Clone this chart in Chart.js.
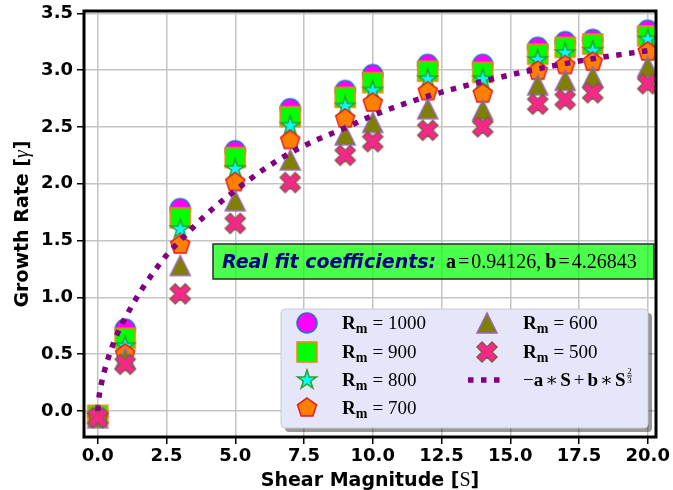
<!DOCTYPE html>
<html>
<head>
<meta charset="utf-8">
<script src="https://cdn.jsdelivr.net/npm/chart.js@4/dist/chart.umd.min.js"></script>
<style>
  html, body { margin: 0; padding: 0; background: #ffffff; }
  #wrap { width: 673px; height: 490px; }
</style>
</head>
<body>
<div id="wrap"><canvas id="chart" width="673" height="490"></canvas></div>
<script>
// Shear magnitudes at which growth rates were measured
const shear = [0, 1, 3, 5, 7, 9, 10, 12, 14, 16, 17, 18, 20];

// Growth rate for each magnetic Reynolds number
const rm1000 = [-0.04, 0.72, 1.78, 2.29, 2.66, 2.82, 2.96, 3.05, 3.05, 3.20, 3.25, 3.27, 3.35];
const rm900  = [-0.04, 0.64, 1.70, 2.23, 2.59, 2.76, 2.89, 2.99, 2.98, 3.14, 3.20, 3.23, 3.30];
const rm800  = [-0.05, 0.57, 1.60, 2.13, 2.51, 2.68, 2.82, 2.92, 2.92, 3.09, 3.15, 3.17, 3.27];
const rm700  = [-0.05, 0.50, 1.46, 2.01, 2.38, 2.57, 2.71, 2.81, 2.79, 2.99, 3.04, 3.07, 3.16];
const rm600  = [-0.06, 0.46, 1.28, 1.85, 2.21, 2.43, 2.54, 2.66, 2.65, 2.87, 2.91, 2.94, 3.03];
const rm500  = [-0.06, 0.41, 1.03, 1.65, 2.01, 2.25, 2.37, 2.47, 2.50, 2.70, 2.74, 2.80, 2.88];

// Fitted curve, sampled along S
const fitS = [0, 0.05, 0.15, 0.3, 0.5, 0.75, 1, 1.5, 2, 2.5, 3, 4, 5, 6, 7, 8, 9, 10, 12, 14, 16, 18, 20];
const fitG = [0, 0.13, 0.26, 0.40, 0.55, 0.70, 0.82, 1.03, 1.21, 1.37, 1.50, 1.74, 1.94, 2.12, 2.27, 2.39, 2.49, 2.60, 2.77, 2.90, 3.01, 3.10, 3.17];

// Tick positions
const xTicks = [0, 2.5, 5, 7.5, 10, 12.5, 15, 17.5, 20];
const yTicks = [0, 0.5, 1, 1.5, 2, 2.5, 3, 3.5];

const seriesLabels = ['1000', '900', '800', '700', '600', '500'];
const fitA = '0.94126';
const fitB = '4.26843';

const SERIF = '"Liberation Serif", "DejaVu Serif", serif';
const SANS = '"DejaVu Sans", sans-serif';

// Build a filled marker glyph on a small canvas
function makeMarker(shape, fill, edge, lw) {
  const c = document.createElement('canvas');
  c.width = 26; c.height = 26;
  const g = c.getContext('2d');
  g.translate(13, 13);
  g.beginPath();
  const R = 10;
  if (shape === 'circle') {
    g.arc(0, 0, R, 0, Math.PI * 2);
  } else if (shape === 'square') {
    g.rect(-R, -R, 2 * R, 2 * R);
  } else if (shape === 'star') {
    for (let i = 0; i < 10; i++) {
      const r = i % 2 ? R * 0.381966 : R;
      const a = -Math.PI / 2 + i * Math.PI / 5;
      const px = r * Math.cos(a), py = r * Math.sin(a);
      if (i === 0) g.moveTo(px, py); else g.lineTo(px, py);
    }
  } else if (shape === 'pentagon') {
    for (let i = 0; i < 5; i++) {
      const a = -Math.PI / 2 + i * 2 * Math.PI / 5;
      const px = R * Math.cos(a), py = R * Math.sin(a);
      if (i === 0) g.moveTo(px, py); else g.lineTo(px, py);
    }
  } else if (shape === 'triangle') {
    g.moveTo(0, -R); g.lineTo(-R, R); g.lineTo(R, R);
  } else if (shape === 'xfilled') {
    const pts = [[-1,-2],[0,-1],[1,-2],[2,-1],[1,0],[2,1],[1,2],[0,1],[-1,2],[-2,1],[-1,0],[-2,-1]];
    pts.forEach((p, i) => {
      const px = p[0] * R / 2, py = p[1] * R / 2;
      if (i === 0) g.moveTo(px, py); else g.lineTo(px, py);
    });
  }
  g.closePath();
  g.fillStyle = fill;
  g.fill();
  g.lineWidth = lw;
  g.lineJoin = 'miter';
  g.strokeStyle = edge;
  g.stroke();
  return c;
}

const markers = [
  makeMarker('circle',   '#ff00ff', '#1f77b4', 1.5),
  makeMarker('square',   '#00ff00', '#ff7f0e', 1.5),
  makeMarker('star',     '#00ffff', '#2ca02c', 1.5),
  makeMarker('pentagon', '#ff7f00', '#e41a1c', 1.5),
  makeMarker('triangle', '#808000', '#9467bd', 1.5),
  makeMarker('xfilled',  '#f5288a', '#8c564b', 1.5)
];
const seriesValues = [rm1000, rm900, rm800, rm700, rm600, rm500];
const FIT_COLOR = '#800080';

const datasets = seriesValues.map((vals, i) => ({
  type: 'scatter',
  label: 'Rm = ' + seriesLabels[i],
  data: shear.map((s, k) => ({ x: s, y: vals[k] })),
  pointStyle: markers[i],
  pointRadius: 10,
  pointHoverRadius: 10,
  showLine: false,
  order: 6 - i,
  clip: 0
}));
datasets.push({
  type: 'line',
  label: 'fit',
  data: fitS.map((s, k) => ({ x: s, y: fitG[k] })),
  borderColor: FIT_COLOR,
  borderWidth: 5.5,
  borderDash: [5.5, 7.5],
  borderCapStyle: 'butt',
  cubicInterpolationMode: 'monotone',
  pointRadius: 0,
  fill: false,
  order: 0,
  clip: 0
});

// Draw a run of text pieces with different fonts
function drawPieces(ctx, x, y, pieces) {
  for (const p of pieces) {
    ctx.font = p.f;
    ctx.fillText(p.t, x + (p.pre || 0), y + (p.dy || 0));
    x += (p.pre || 0) + ctx.measureText(p.t).width + (p.post || 0);
  }
  return x;
}
function piecesWidth(ctx, pieces) {
  let w = 0;
  for (const p of pieces) {
    ctx.font = p.f;
    w += (p.pre || 0) + ctx.measureText(p.t).width + (p.post || 0);
  }
  return w;
}

function roundRect(ctx, x, y, w, h, r) {
  ctx.beginPath();
  ctx.moveTo(x + r, y);
  ctx.lineTo(x + w - r, y);
  ctx.arcTo(x + w, y, x + w, y + r, r);
  ctx.lineTo(x + w, y + h - r);
  ctx.arcTo(x + w, y + h, x + w - r, y + h, r);
  ctx.lineTo(x + r, y + h);
  ctx.arcTo(x, y + h, x, y + h - r, r);
  ctx.lineTo(x, y + r);
  ctx.arcTo(x, y, x + r, y, r);
  ctx.closePath();
}

const decorations = {
  id: 'decorations',
  afterDatasetsDraw(chart) {
    const ctx = chart.ctx;
    const a = chart.chartArea;
    // axes frame
    ctx.save();
    ctx.strokeStyle = '#000';
    ctx.lineWidth = 3;
    ctx.strokeRect(a.left, a.top, a.right - a.left, a.bottom - a.top);
    ctx.restore();
  },
  afterDraw(chart) {
    const ctx = chart.ctx;
    const a = chart.chartArea;
    ctx.save();
    ctx.fillStyle = '#000';
    ctx.textBaseline = 'alphabetic';

    // axis titles
    const tb = 'bold 19px ' + SANS;
    const xt = [
      { t: 'Shear Magnitude [', f: tb },
      { t: 'S', f: '20px ' + SERIF },
      { t: ']', f: tb }
    ];
    const cx = (a.left + a.right) / 2;
    drawPieces(ctx, cx - piecesWidth(ctx, xt) / 2, 486, xt);

    const yt = [
      { t: 'Growth Rate [', f: tb },
      { t: '\u03b3', f: 'italic 20px ' + SERIF, post: 1 },
      { t: ']', f: tb }
    ];
    ctx.save();
    ctx.translate(28, (a.top + a.bottom) / 2);
    ctx.rotate(-Math.PI / 2);
    drawPieces(ctx, -piecesWidth(ctx, yt) / 2, 0, yt);
    ctx.restore();

    // fit coefficients box
    const bx = 213, by = 244, bw = 441, bh = 35;
    ctx.fillStyle = 'rgba(0,255,0,0.7)';
    ctx.fillRect(bx, by, bw, bh);
    ctx.strokeStyle = '#2b2b2b';
    ctx.lineWidth = 1.5;
    ctx.strokeRect(bx, by, bw, bh);
    ctx.fillStyle = '#000080';
    ctx.font = 'italic bold 19px ' + SANS;
    ctx.fillText('Real fit coefficients:', 222, 268);
    ctx.fillStyle = '#000';
    const mr = '20px ' + SERIF, mb = 'bold 20px ' + SERIF;
    drawPieces(ctx, 446, 268, [
      { t: 'a', f: mb },
      { t: '=', f: mr, pre: 2, post: 2 },
      { t: fitA + ',', f: mr, post: 4 },
      { t: 'b', f: mb },
      { t: '=', f: mr, pre: 2, post: 2 },
      { t: fitB, f: mr }
    ]);

    // legend
    const lx = 281, ly = 309, lw = 367, lh = 119;
    ctx.fillStyle = 'rgba(0,0,0,0.4)';
    roundRect(ctx, lx + 4, ly + 4, lw, lh, 4);
    ctx.fill();
    ctx.fillStyle = '#e6e6fa';
    roundRect(ctx, lx, ly, lw, lh, 4);
    ctx.fill();
    ctx.strokeStyle = '#cccccc';
    ctx.lineWidth = 1;
    ctx.stroke();

    const rows = [323, 352, 380, 408];
    const entries = [];
    for (let i = 0; i < 6; i++) {
      const col = i < 4 ? 0 : 1;
      const row = i < 4 ? i : i - 4;
      entries.push({ col, row, i });
    }
    ctx.fillStyle = '#000';
    for (const e of entries) {
      const mx = e.col === 0 ? 307 : 487;
      const tx = e.col === 0 ? 342 : 523;
      const y = rows[e.row];
      const m = markers[e.i];
      ctx.drawImage(m, mx - m.width / 2, y - m.height / 2);
      drawPieces(ctx, tx, y + 6, [
        { t: 'R', f: 'bold 19px ' + SERIF },
        { t: 'm', f: 'bold 14px ' + SERIF, dy: 4, post: 5 },
        { t: '=', f: '19px ' + SERIF, post: 5 },
        { t: seriesLabels[e.i], f: '19px ' + SERIF }
      ]);
    }
    // fit entry
    const fy = rows[2];
    ctx.save();
    ctx.strokeStyle = FIT_COLOR;
    ctx.lineWidth = 5.5;
    ctx.setLineDash([5.5, 7.5]);
    ctx.beginPath();
    ctx.moveTo(468, fy);
    ctx.lineTo(502, fy);
    ctx.stroke();
    ctx.restore();
    const r19 = '19px ' + SERIF, b19 = 'bold 19px ' + SERIF;
    let ex = drawPieces(ctx, 523, fy + 6, [
      { t: '\u2212', f: r19 },
      { t: 'a', f: b19 },
      { t: '\u2217', f: r19, pre: 2, post: 2 },
      { t: 'S', f: b19 },
      { t: '+', f: r19, pre: 3, post: 3 },
      { t: 'b', f: b19 },
      { t: '\u2217', f: r19, pre: 2, post: 2 },
      { t: 'S', f: b19 }
    ]);
    ctx.font = '9px ' + SERIF;
    ctx.textAlign = 'center';
    ctx.fillText('2', ex + 4, fy - 6);
    ctx.fillText('3', ex + 4, fy + 3);
    ctx.fillRect(ex + 1.5, fy - 4.5, 5, 0.8);
    ctx.restore();
  }
};

const tickFont = { family: SANS, weight: 'bold', size: 18 };

new Chart(document.getElementById('chart'), {
  type: 'scatter',
  data: { datasets },
  options: {
    responsive: false,
    animation: false,
    devicePixelRatio: 1,
    layout: { padding: { left: 0, right: 17, top: 11, bottom: 0 } },
    plugins: { legend: { display: false }, tooltip: { enabled: false } },
    scales: {
      x: {
        type: 'linear',
        min: -0.5,
        max: 20.3,
        afterBuildTicks: s => { s.ticks = xTicks.map(v => ({ value: v })); },
        afterFit: s => { s.height = 53; s.paddingLeft = 0; s.paddingRight = 0; },
        ticks: {
          color: '#000',
          font: tickFont,
          padding: 2,
          maxRotation: 0,
          autoSkip: false,
          callback: v => Number(v).toFixed(1)
        },
        grid: { color: '#c4c4c4', lineWidth: 1.5, tickColor: '#000', tickLength: 7, tickWidth: 1.5 },
        border: { display: false }
      },
      y: {
        type: 'linear',
        min: -0.23,
        max: 3.52,
        afterBuildTicks: s => { s.ticks = yTicks.map(v => ({ value: v })); },
        afterFit: s => { s.width = 84; s.paddingTop = 0; s.paddingBottom = 0; },
        ticks: {
          color: '#000',
          font: tickFont,
          padding: 4,
          autoSkip: false,
          callback: v => Number(v).toFixed(1)
        },
        grid: { color: '#c4c4c4', lineWidth: 1.5, tickColor: '#000', tickLength: 7, tickWidth: 1.5 },
        border: { display: false }
      }
    }
  },
  plugins: [decorations]
});
</script>
</body>
</html>
